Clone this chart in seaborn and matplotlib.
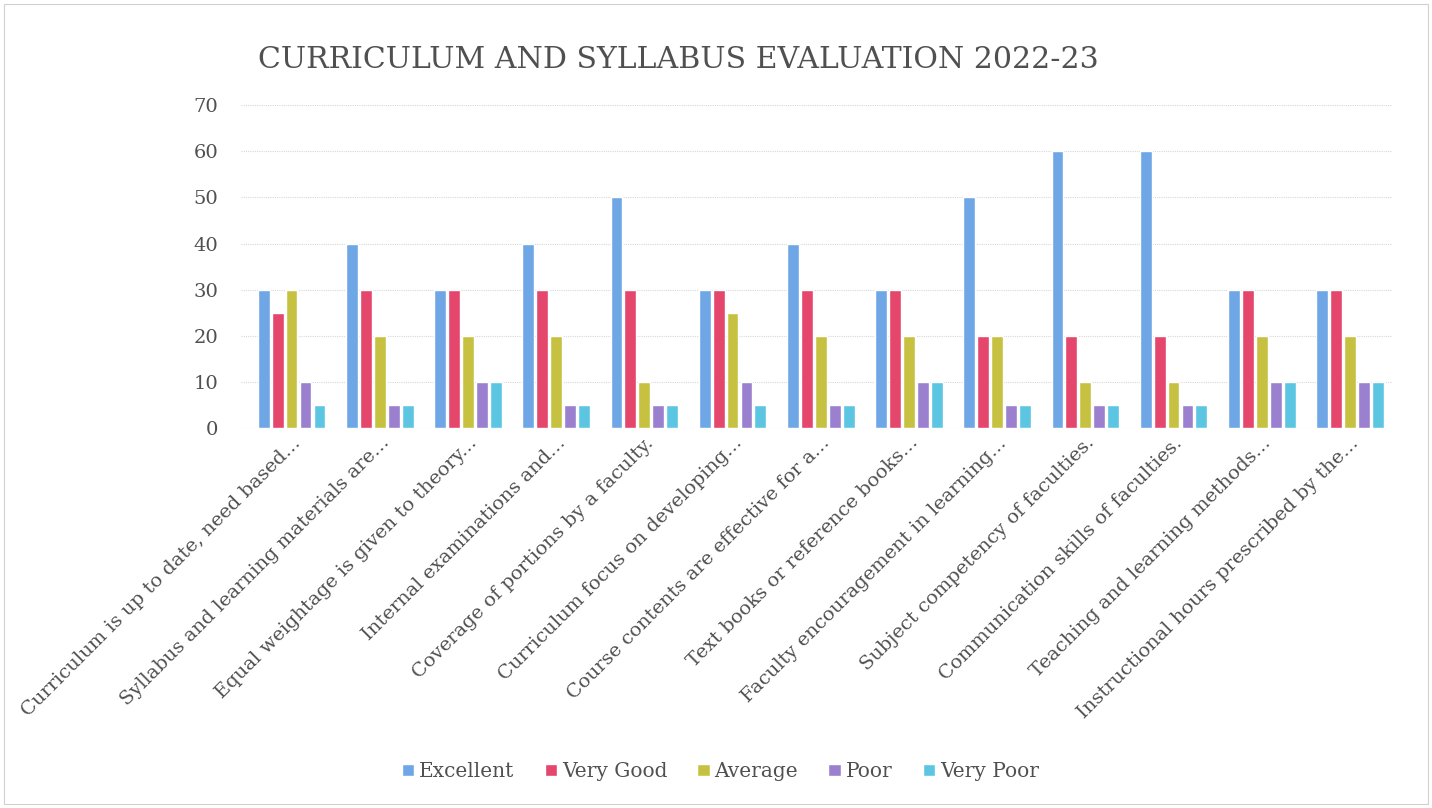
import matplotlib
matplotlib.use("Agg")
import matplotlib.pyplot as plt
import pandas as pd
import seaborn as sns

# ─── DATA ───────────────────────────────────────────────────────────────────
QUESTIONS = [
    "Curriculum is up to date, need based...",
    "Syllabus and learning materials are...",
    "Equal weightage is given to theory...",
    "Internal examinations and...",
    "Coverage of portions by a faculty.",
    "Curriculum focus on developing...",
    "Course contents are effective for a...",
    "Text books or reference books...",
    "Faculty encouragement in learning...",
    "Subject competency of faculties.",
    "Communication skills of faculties.",
    "Teaching and learning methods...",
    "Instructional hours prescribed by the...",
]
RATINGS = ["Excellent", "Very Good", "Average", "Poor", "Very Poor"]

excellent = [30, 40, 30, 40, 50, 30, 40, 30, 50, 60, 60, 30, 30]
very_good = [25, 30, 30, 30, 30, 30, 30, 30, 20, 20, 20, 30, 30]
average   = [30, 20, 20, 20, 10, 25, 20, 20, 20, 10, 10, 20, 20]
poor      = [10, 5, 10, 5, 5, 10, 5, 10, 5, 5, 5, 10, 10]
very_poor = [5, 5, 10, 5, 5, 5, 5, 10, 5, 5, 5, 10, 10]

COLORS = ["#6fa6e6", "#e4466c", "#c7c142", "#9a80cf", "#5cc6e2"]

# ─── PLOT ───────────────────────────────────────────────────────────────────
df = pd.DataFrame({"Question": QUESTIONS, "Excellent": excellent,
                   "Very Good": very_good, "Average": average,
                   "Poor": poor, "Very Poor": very_poor})
long = df.melt(id_vars="Question", var_name="Rating", value_name="Count")

sns.set_style("white")
plt.rcParams["font.family"] = ["DejaVu Serif"]

fig = plt.figure(figsize=(14.32, 8.08), dpi=100)
ax = fig.add_axes([0.168, 0.47, 0.804, 0.40])

sns.barplot(data=long, x="Question", y="Count", hue="Rating",
            hue_order=RATINGS, palette=COLORS, width=0.79, gap=0.15,
            saturation=1, ax=ax, legend=True)

ax.set_ylim(0, 70)
ax.set_yticks(range(0, 71, 10))
ax.yaxis.grid(True, color="#d8d8d8", lw=0.8, ls=(0, (1, 1)))
ax.set_axisbelow(True)
for s in ax.spines.values():
    s.set_visible(False)
ax.tick_params(axis="y", length=0, labelsize=14, colors="#505050", pad=16)
ax.tick_params(axis="x", length=0, labelsize=14, colors="#505050", pad=4)
ax.set_xticks(range(len(QUESTIONS)))
ax.set_xticklabels(QUESTIONS, rotation=45, ha="right", rotation_mode="anchor")
ax.set_xlabel("")
ax.set_ylabel("")
ax.set_xlim(-0.578, len(QUESTIONS) - 0.524)

fig.text(0.474, 0.926, "CURRICULUM AND SYLLABUS EVALUATION 2022-23",
         ha="center", va="center", fontsize=21.6, color="#505050")

handles, labels = ax.get_legend_handles_labels()
ax.legend_.remove()
fig.legend(handles, labels, loc="center", bbox_to_anchor=(0.503, 0.045),
           ncol=5, frameon=False, fontsize=14.5, handlelength=0.6,
           handleheight=0.6, handletextpad=0.25, columnspacing=1.5,
           labelcolor="#505050")

fig.patches.append(plt.Rectangle((0.003, 0.005), 0.994, 0.99,
                                 transform=fig.transFigure, fill=False,
                                 ec="#d0d0d0", lw=0.8))

fig.savefig("out.png", dpi=100)
plt.close(fig)
